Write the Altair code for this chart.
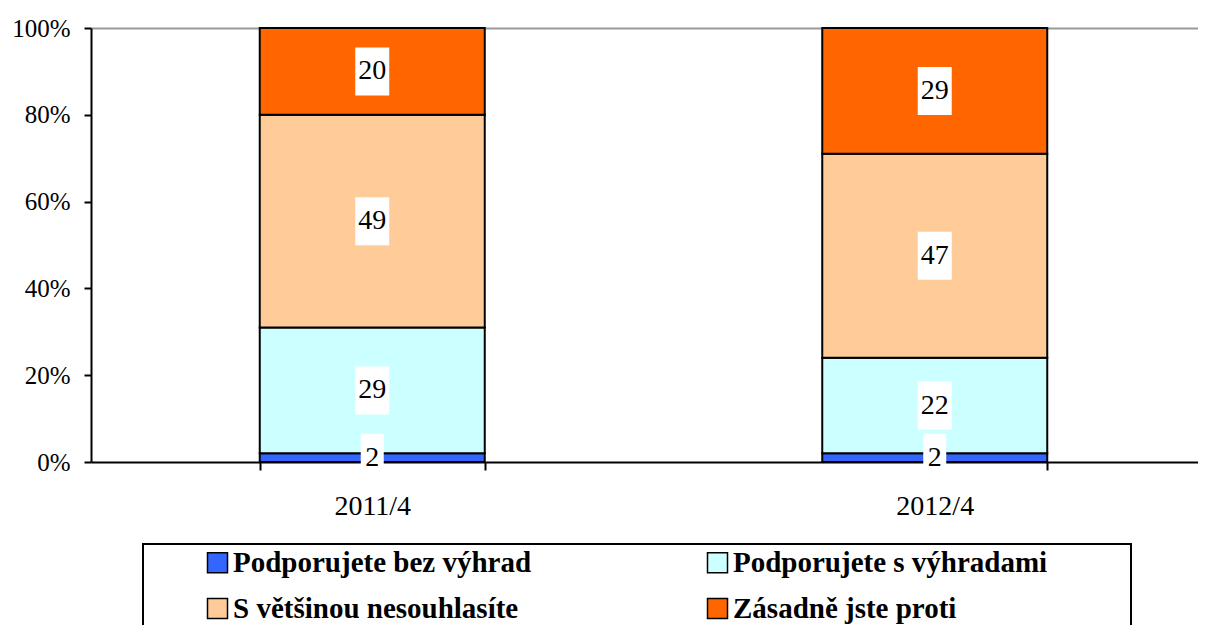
import altair as alt
import pandas as pd

periods = ["2011/4", "2012/4"]
categories = ["Podporujete bez výhrad", "Podporujete s výhradami",
              "S většinou nesouhlasíte", "Zásadně jste proti"]
colors = ["#3366FF", "#CCFFFF", "#FFCC99", "#FF6600"]
legend_order = ["Podporujete bez výhrad", "S většinou nesouhlasíte",
                "Podporujete s výhradami", "Zásadně jste proti"]
values_2011 = [2, 29, 49, 20]
values_2012 = [2, 22, 47, 29]
y_ticks = [0, 20, 40, 60, 80, 100]

rows = []
for period, vals in zip(periods, [values_2011, values_2012]):
    start = 0
    for i, (cat, v) in enumerate(zip(categories, vals)):
        rows.append(dict(period=period, cat=cat, order=i, value=v,
                         start=start, end=start + v, mid=start + v / 2,
                         label=str(v), ndig=len(str(v))))
        start += v
df = pd.DataFrame(rows)

SERIF = "Liberation Serif"
# invisible, tiny spacer that gives the legend frame its full width
FRAME_SPACER = "0" * 984

x_enc = alt.X(
    "period:N", sort=periods, title=None,
    scale=alt.Scale(range=[0, 1125], paddingInner=0.6, paddingOuter=0.3),
    axis=alt.Axis(tickBand="extent", domainColor="black", domainWidth=2,
                  tickColor="black", tickWidth=2, tickSize=8,
                  labelFont=SERIF, labelFontSize=28, labelColor="black",
                  labelPadding=22, labelAngle=0, grid=False),
)
x_plain = alt.X("period:N", sort=periods)

bars = alt.Chart(df).mark_bar(stroke="black", strokeWidth=2).encode(
    x=x_enc,
    y=alt.Y("start:Q", title=None, scale=alt.Scale(domain=[0, 100]),
            axis=alt.Axis(values=y_ticks, labelExpr="datum.value + '%'",
                          domainColor="black", domainWidth=2,
                          tickColor="black", tickWidth=2, tickSize=7,
                          labelFont=SERIF, labelFontSize=25, labelColor="black",
                          labelPadding=14, grid=True, gridWidth=2,
                          gridColor={"condition": {"test": "datum.value === 100",
                                                   "value": "#999999"},
                                     "value": "transparent"})),
    y2="end:Q",
    color=alt.Color(
        "cat:N", scale=alt.Scale(domain=categories, range=colors),
        legend=alt.Legend(
            values=legend_order,
            title=FRAME_SPACER, titleOrient="top", titleFont=SERIF,
            titleFontSize=2, titleFontWeight="normal", titlePadding=0,
            titleOpacity=0, titleLimit=3000, titleAnchor="start",
            orient="none", legendX=52, legendY=516, columns=2,
            symbolType="square", symbolSize=400, symbolStrokeColor="black",
            symbolStrokeWidth=1.5, symbolOffset=58, labelOffset=1,
            labelFont=SERIF, labelFontSize=29, labelFontWeight="bold",
            labelColor="black", labelLimit=1000,
            padding=2, rowPadding=16, columnPadding=113,
            strokeColor="black",
        ),
    ),
    order=alt.Order("order:Q"),
)

box_wide = alt.Chart(df).transform_filter("datum.ndig == 2").mark_point(
    shape="M-0.708,-1H0.708V1H-0.708Z", size=2304, filled=True,
    fill="white", opacity=1, strokeWidth=0,
).encode(x=x_plain, y="mid:Q")

box_narrow = alt.Chart(df).transform_filter("datum.ndig == 1").mark_point(
    shape="M-0.479,-1H0.479V1H-0.479Z", size=2304, filled=True,
    fill="white", opacity=1, strokeWidth=0,
).encode(x=x_plain, y="mid:Q")

labels = alt.Chart(df).mark_text(
    font=SERIF, fontSize=28, color="black", baseline="middle", align="center",
).encode(x=x_plain, y="mid:Q", text="label:N")

chart = alt.layer(bars, box_wide, box_narrow, labels).properties(
    width=1107, height=434,
    padding={"left": 83, "top": 20, "right": 0, "bottom": 163},
    autosize=alt.AutoSizeParams(type="none"),
).configure_view(stroke=None).configure_legend(strokeWidth=2)

chart.save("out.html", embed_options={"renderer": "svg", "actions": False})
